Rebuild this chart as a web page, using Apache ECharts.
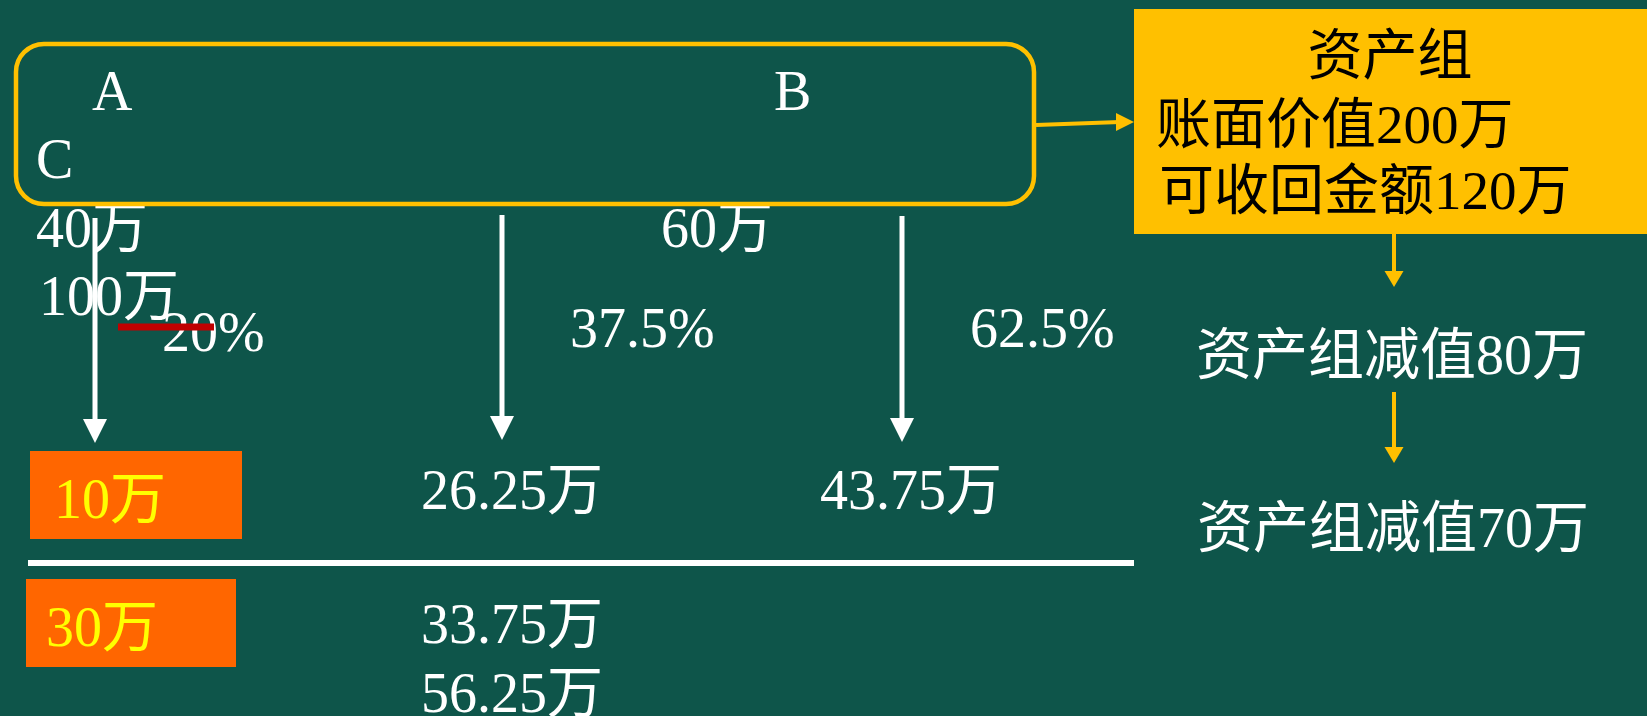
<!DOCTYPE html>
<html>
<head>
<meta charset="utf-8">
<script src="https://cdn.jsdelivr.net/npm/echarts@6/dist/echarts.min.js"></script>
<style>
html,body{margin:0;padding:0;background:#0E554A;}
#chart{width:1647px;height:716px;}
</style>
</head>
<body>
<div id="chart"></div>
<script>
// ---- data (texts of the diagram) ----
const assetNames   = ['A', 'B', 'C'];
const bookValues   = ['40万', '60万', '100万'];
const ratios       = ['20%', '37.5%', '62.5%'];
const firstAlloc   = ['10万', '26.25万', '43.75万'];
const secondAlloc  = ['30万', '33.75万', '56.25万'];
const groupTitle   = ['资产组'];
const groupLines   = ['账面价值200万', '可收回金额120万'];
const impairments  = ['资产组减值80万', '资产组减值70万'];

// ---- layout (positions kept separate from data) ----
const FONT = "'Liberation Serif', 'Noto Sans CJK SC', serif";
const FS = 56;
const DY = 7;
const WHITE = '#FFFFFF', GOLD = '#FFC000', ORANGE = '#FF6600', YEL = '#FFFF00', RED = '#C00000';
const namePos   = [[92, 88], [774, 88], [36, 156]];
const bookPos   = [[36, 225], [661, 225], [39, 293]];
const ratioPos  = [[162, 329], [570, 325], [970, 325]];
const firstPos  = [[54, 496], [421, 487], [820, 487]];
const secondPos = [[46, 624], [421, 621], [421, 690]];
const alloc1Box = [30, 451, 212, 88];
const alloc2Box = [26, 579, 210, 88];
const arrowX    = [95, 502, 902];
const arrowTop  = [218, 215, 216];
const arrowTip  = [443, 440, 442];

function txt(s, x, y, color, size, align) {
  return {
    type: 'text', x: x, y: y + DY, z: 10,
    style: { text: s, fill: color, font: 'normal ' + size + 'px ' + FONT,
             align: align || 'left', verticalAlign: 'middle' }
  };
}
function downArrow(x, y0, y1, color, lw, hw, hh) {
  return [
    { type: 'line', z: 5, shape: { x1: x, y1: y0, x2: x, y2: y1 - hh + 2 },
      style: { stroke: color, lineWidth: lw } },
    { type: 'polygon', z: 5, shape: { points: [[x - hw / 2, y1 - hh], [x + hw / 2, y1 - hh], [x, y1]] },
      style: { fill: color } }
  ];
}

const els = [];
// orange allocation boxes
els.push({ type: 'rect', z: 2, shape: { x: alloc1Box[0], y: alloc1Box[1], width: alloc1Box[2], height: alloc1Box[3] }, style: { fill: ORANGE } });
els.push({ type: 'rect', z: 2, shape: { x: alloc2Box[0], y: alloc2Box[1], width: alloc2Box[2], height: alloc2Box[3] }, style: { fill: ORANGE } });
// gold group box
els.push({ type: 'rect', z: 2, shape: { x: 1134, y: 9, width: 513, height: 225 }, style: { fill: GOLD } });

// texts
assetNames.forEach((s, i) => els.push(txt(s, namePos[i][0], namePos[i][1], WHITE, FS)));
bookValues.forEach((s, i) => els.push(txt(s, bookPos[i][0], bookPos[i][1], WHITE, FS)));
ratios.forEach((s, i) => els.push(txt(s, ratioPos[i][0], ratioPos[i][1], WHITE, FS)));
firstAlloc.forEach((s, i) => els.push(txt(s, firstPos[i][0], firstPos[i][1], i === 0 ? YEL : WHITE, FS)));
secondAlloc.forEach((s, i) => els.push(txt(s, secondPos[i][0], secondPos[i][1], i === 0 ? YEL : WHITE, FS)));
els.push(txt(groupTitle[0], 1390, 53, '#000000', 55, 'center'));
els.push(txt(groupLines[0], 1156, 122, '#000000', 55));
els.push(txt(groupLines[1], 1159, 188, '#000000', 55));
els.push(txt(impairments[0], 1392, 352, WHITE, FS, 'center'));
els.push(txt(impairments[1], 1393, 525, WHITE, FS, 'center'));

// rounded asset box
els.push({ type: 'rect', z: 12, shape: { x: 16, y: 44, width: 1018, height: 160, r: 28 },
           style: { fill: 'none', stroke: GOLD, lineWidth: 4.5 } });
// connector to group box
els.push({ type: 'line', z: 12, shape: { x1: 1036, y1: 125, x2: 1120, y2: 122 }, style: { stroke: GOLD, lineWidth: 4 } });
els.push({ type: 'polygon', z: 12, shape: { points: [[1116, 113], [1116, 131], [1134, 122]] }, style: { fill: GOLD } });

// white arrows
arrowX.forEach((x, i) => downArrow(x, arrowTop[i], arrowTip[i], WHITE, 5, 24, 24).forEach(e => els.push(e)));
// gold arrows
downArrow(1394, 234, 287, GOLD, 4, 19, 16).forEach(e => els.push(e));
downArrow(1394, 392, 463, GOLD, 4, 19, 16).forEach(e => els.push(e));
// white separator
els.push({ type: 'line', z: 5, shape: { x1: 28, y1: 563, x2: 1134, y2: 563 }, style: { stroke: WHITE, lineWidth: 6 } });
// red strike
els.push({ type: 'line', z: 15, shape: { x1: 118, y1: 327, x2: 214, y2: 327 }, style: { stroke: RED, lineWidth: 7 } });

const chart = echarts.init(document.getElementById('chart'), null, { renderer: 'canvas', width: 1647, height: 716 });
chart.setOption({
  backgroundColor: '#0E554A',
  animation: false,
  graphic: { elements: els },
  series: []
});
</script>
</body>
</html>
